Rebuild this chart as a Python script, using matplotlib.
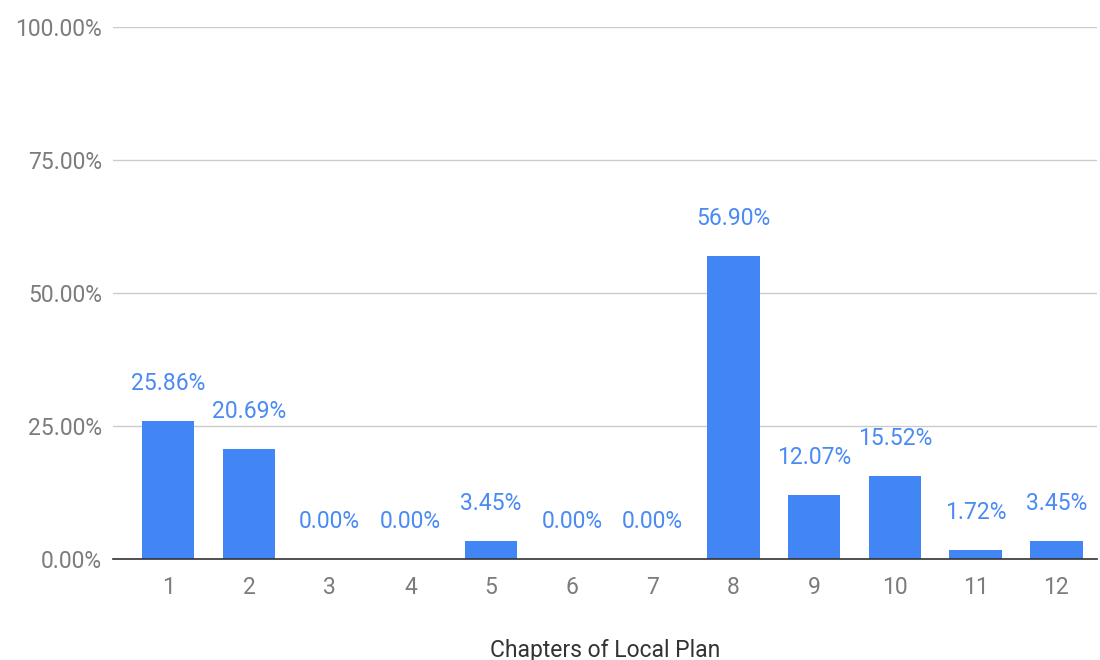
import matplotlib.pyplot as plt
from matplotlib.ticker import FuncFormatter

chapters = ["1", "2", "3", "4", "5", "6", "7", "8", "9", "10", "11", "12"]
shares = [25.86, 20.69, 0.00, 0.00, 3.45, 0.00, 0.00, 56.90, 12.07, 15.52, 1.72, 3.45]
y_ticks = [0, 25, 50, 75, 100]

plt.rcParams['font.family'] = ['Roboto', 'DejaVu Sans']

fig = plt.figure(figsize=(11, 6.6), dpi=100)
ax = fig.add_axes([0.103, 0.153, 0.894, 0.806])

x = range(len(chapters))
bars = ax.bar(x, shares, width=0.65, color="#4285F4", zorder=3)

for rect, val in zip(bars, shares):
    ax.annotate(f"{val:.2f}%", (rect.get_x() + rect.get_width() / 2, val),
                xytext=(0, 27), textcoords="offset points",
                ha="center", va="center", fontsize=16.5, color="#4a8af4")

ax.set_ylim(0, 100)
ax.set_xlim(-0.68, 11.5)
ax.set_yticks(y_ticks)
ax.yaxis.set_major_formatter(FuncFormatter(lambda v, _: f"{v:.2f}%"))
ax.set_xticks(list(x))
ax.set_xticklabels(chapters)
ax.tick_params(length=0, labelsize=16.5, labelcolor="#7c7c7c")
ax.tick_params(axis="x", pad=12)
ax.tick_params(axis="y", pad=8)

ax.grid(axis="y", color="#cccccc", linewidth=1, zorder=0)
for side in ["top", "right", "left"]:
    ax.spines[side].set_visible(False)
ax.spines["bottom"].set_color("#333333")
ax.spines["bottom"].set_linewidth(1.2)
ax.spines["bottom"].set_zorder(4)

ax.set_xlabel("Chapters of Local Plan", fontsize=16.5, color="#333333", labelpad=29)

fig.savefig("out.png", dpi=100, facecolor="white")
